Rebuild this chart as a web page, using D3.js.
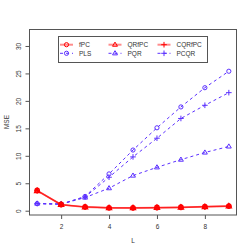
<!DOCTYPE html>
<html><head><meta charset="utf-8">
<script src="https://cdn.jsdelivr.net/npm/d3@7"></script>
<style>body{margin:0;background:#fff}svg{display:block}text{font-family:"Liberation Sans",Arial,sans-serif}</style>
</head><body><svg id="c" width="252" height="252"></svg>
<script>
const L = [1,2,3,4,5,6,7,8,9];
const fPC    = [3.7,1.15,0.7,0.55,0.55,0.6,0.65,0.75,0.85];
const QRfPC  = [3.6,1.1,0.65,0.5,0.5,0.55,0.6,0.7,0.8];
const CQRfPC = [3.65,1.1,0.7,0.55,0.5,0.55,0.6,0.7,0.8];
const PLS    = [1.3,1.2,2.6,6.7,11.05,15.1,18.9,22.4,25.4];
const PQR    = [1.3,1.2,2.4,4.1,6.4,7.9,9.3,10.6,11.7];
const PCQR   = [1.3,1.2,2.5,6.1,9.8,13.2,16.8,19.2,21.5];
const xTicks = [2,4,6,8];
const yTicks = [0,5,10,15,20,25,30];
const seriesNames = ["fPC","PLS","QRfPC","PQR","CQRfPC","PCQR"];

const RED = "#ff0000", BLUE = "#5b30ff";
const series = [
  {name:"PLS", v:PLS, col:BLUE, dash:"3,3", shape:"circle", lw:1},
  {name:"PQR", v:PQR, col:BLUE, dash:"3,3", shape:"tri", lw:1},
  {name:"PCQR", v:PCQR, col:BLUE, dash:"3,3", shape:"plus", lw:1},
  {name:"fPC", v:fPC, col:RED, dash:null, shape:"circle", lw:1.5},
  {name:"QRfPC", v:QRfPC, col:RED, dash:null, shape:"tri", lw:1.5},
  {name:"CQRfPC", v:CQRfPC, col:RED, dash:null, shape:"plus", lw:1.5}
];
const byName = Object.fromEntries(series.map(s=>[s.name,s]));

const svg = d3.select("#c");
const x = d3.scaleLinear().domain([0.68,9.32]).range([29.5,236.5]);
const y = d3.scaleLinear().domain([-0.78,33.0]).range([215,29.5]);

function marker(g, shape, cx, cy, col, sw){
  if(shape==="circle") g.append("circle").attr("cx",cx).attr("cy",cy).attr("r",2.1).attr("fill","none").attr("stroke",col).attr("stroke-width",sw);
  else if(shape==="tri"){ const r=2.6; g.append("path").attr("d",`M${cx},${cy-r}L${cx+r*0.95},${cy+r*0.6}L${cx-r*0.95},${cy+r*0.6}Z`).attr("fill","none").attr("stroke",col).attr("stroke-width",sw);}
  else { const r=2.8; g.append("path").attr("d",`M${cx-r},${cy}H${cx+r}M${cx},${cy-r}V${cy+r}`).attr("stroke",col).attr("stroke-width",sw);}
}

series.forEach(s=>{
  const line = d3.line().x((d,i)=>x(L[i])).y(d=>y(d));
  svg.append("path").datum(s.v).attr("d",line).attr("fill","none")
    .attr("stroke",s.col).attr("stroke-width",s.lw).attr("stroke-opacity",s.col===RED?0.5:1)
    .attr("stroke-dasharray",s.dash);
  const g = svg.append("g");
  s.v.forEach((d,i)=>marker(g,s.shape,x(L[i]),y(d),s.col,s.col===RED?1.4:1));
});

svg.append("rect").attr("x",29.5).attr("y",29.5).attr("width",207).attr("height",185.5).attr("fill","none").attr("stroke","#555").attr("stroke-width",1);

const xa = svg.append("g").attr("transform","translate(0,215)")
  .call(d3.axisBottom(x).tickValues(xTicks).tickSize(4).tickPadding(5).tickFormat(d3.format("d")));
const ya = svg.append("g").attr("transform","translate(29.5,0)")
  .call(d3.axisLeft(y).tickValues(yTicks).tickSize(4).tickPadding(3).tickFormat(d3.format("d")));
[xa,ya].forEach(a=>{a.select(".domain").remove(); a.selectAll("line").attr("stroke","#555"); a.selectAll("text").attr("fill","#333").style("font-size","6.5px").style("font-family","Liberation Sans, Arial, sans-serif");});
ya.selectAll(".tick text").attr("text-anchor","middle").attr("dy",0).attr("x",0)
  .attr("transform","translate(-9,0) rotate(-90)");

svg.append("text").attr("x",133).attr("y",243).attr("text-anchor","middle").style("font-size","6.5px").attr("fill","#333").text("L");
svg.append("text").attr("transform","translate(9,122) rotate(-90)").attr("text-anchor","middle").style("font-size","6.5px").attr("fill","#333").text("MSE");

const lg = svg.append("g");
lg.append("rect").attr("x",58.5).attr("y",36.5).attr("width",149).attr("height",26).attr("fill","#fff").attr("stroke","#555");
const cols = [60,108.5,157.5];
seriesNames.forEach((n,i)=>{
  const s = byName[n];
  const cx = cols[Math.floor(i/2)], cy = i%2===0 ? 44.7 : 53.3;
  lg.append("line").attr("x1",cx).attr("x2",cx+13).attr("y1",cy).attr("y2",cy).attr("stroke",s.col)
    .attr("stroke-width",s.col===RED?2:1).attr("stroke-opacity",s.col===RED?0.45:1).attr("stroke-dasharray",s.dash);
  marker(lg,s.shape,cx+6.5,cy,s.col,1);
  lg.append("text").attr("x",cx+19).attr("y",cy+2.3).style("font-size","6.5px").attr("fill","#333").text(n);
});
</script></body></html>
